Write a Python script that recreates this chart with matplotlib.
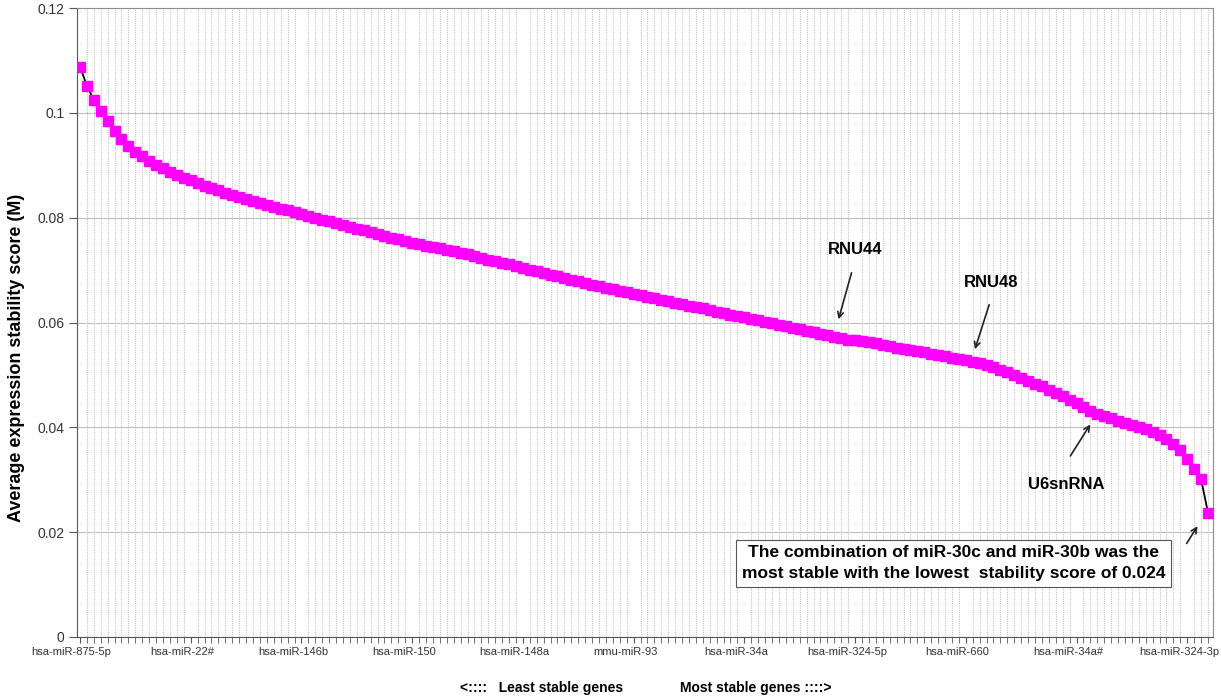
import numpy as np
import matplotlib.pyplot as plt
import matplotlib.transforms as mtransforms

plt.rcParams['font.family'] = ['Liberation Sans', 'DejaVu Sans']

# stability score M for the ranked genes (least stable -> most stable)
m_values = [
    0.1088, 0.1052, 0.1024, 0.1003, 0.0984, 0.0965, 0.0950, 0.0937, 0.0926, 0.0917,
    0.0909, 0.0901, 0.0894, 0.0888, 0.0882, 0.0876, 0.0871, 0.0866, 0.0861, 0.0857,
    0.0852, 0.0848, 0.0844, 0.0840, 0.0836, 0.0832, 0.0828, 0.0825, 0.0821, 0.0817,
    0.0814, 0.0810, 0.0807, 0.0803, 0.0800, 0.0796, 0.0793, 0.0789, 0.0786, 0.0782,
    0.0779, 0.0776, 0.0772, 0.0769, 0.0766, 0.0762, 0.0759, 0.0756, 0.0752, 0.0749,
    0.0746, 0.0744, 0.0742, 0.0739, 0.0736, 0.0733, 0.0730, 0.0727, 0.0723, 0.0720,
    0.0717, 0.0714, 0.0711, 0.0707, 0.0704, 0.0701, 0.0698, 0.0695, 0.0691, 0.0688,
    0.0685, 0.0682, 0.0679, 0.0675, 0.0672, 0.0669, 0.0666, 0.0663, 0.0660, 0.0658,
    0.0655, 0.0652, 0.0649, 0.0646, 0.0643, 0.0641, 0.0638, 0.0635, 0.0632, 0.0629,
    0.0627, 0.0624, 0.0621, 0.0618, 0.0615, 0.0613, 0.0610, 0.0607, 0.0604, 0.0601,
    0.0599, 0.0596, 0.0593, 0.0590, 0.0587, 0.0584, 0.0582, 0.0579, 0.0576, 0.0573,
    0.0570, 0.0567, 0.0566, 0.0564, 0.0562, 0.0560, 0.0557, 0.0555, 0.0552, 0.0550,
    0.0547, 0.0545, 0.0543, 0.0540, 0.0538, 0.0536, 0.0533, 0.0531, 0.0528, 0.0525,
    0.0522, 0.0519, 0.0515, 0.0510, 0.0505, 0.0500, 0.0494, 0.0489, 0.0483, 0.0478,
    0.0472, 0.0466, 0.0460, 0.0453, 0.0446, 0.0439, 0.0432, 0.0426, 0.0421, 0.0417,
    0.0413, 0.0409, 0.0405, 0.0401, 0.0397, 0.0392, 0.0386, 0.0378, 0.0368, 0.0356,
    0.0340, 0.0321, 0.0301, 0.0237,
]

# gene names shown on the axis (every 16th gene)
label_pos = [0, 16, 32, 48, 64, 80, 96, 112, 128, 144, 160]
label_names = ['hsa-miR-875-5p', 'hsa-miR-22#', 'hsa-miR-146b', 'hsa-miR-150',
               'hsa-miR-148a', 'mmu-miR-93', 'hsa-miR-34a', 'hsa-miR-324-5p',
               'hsa-miR-660', 'hsa-miR-34a#', 'hsa-miR-324-3p']

y_ticks = [0, 0.02, 0.04, 0.06, 0.08, 0.1, 0.12]
y_tick_labels = ['0', '0.02', '0.04', '0.06', '0.08', '0.1', '0.12']

n = len(m_values)
x = np.arange(n)

fig = plt.figure(figsize=(12.21, 6.98), dpi=100)
ax = fig.add_axes([0.06306, 0.0874, 0.93038, 0.9011])

# grid
ax.set_xticks(x, minor=True)
ax.grid(axis='x', which='minor', color='#c4c4c4', linestyle=(0, (1, 1)), linewidth=0.8)
ax.grid(axis='y', which='major', color='#c0c0c0', linestyle='-', linewidth=0.8)
ax.set_axisbelow(True)

ax.plot(x, m_values, color='black', linewidth=1.3, zorder=2)
ax.plot(x, m_values, linestyle='none', marker='s', markersize=7.2,
        markerfacecolor='#ff00ff', markeredgecolor='#ff00ff', zorder=3)

ax.set_xlim(-0.43, n - 0.28)
ax.set_ylim(0, 0.12)
ax.set_yticks(y_ticks)
ax.set_yticklabels(y_tick_labels, fontsize=10, color='#333333')
ax.set_xticks(label_pos)
ax.set_xticklabels([])
ax.tick_params(axis='x', which='both', length=4, color='#555555', direction='out')
ax.tick_params(axis='y', which='major', length=6, pad=3, color='#555555', direction='out')

# category names, set a little left of their ticks as in the original
trans = mtransforms.blended_transform_factory(ax.transData, ax.transAxes)
for pos, name in zip(label_pos, label_names):
    ax.text(pos - 1.2, -0.024, name, transform=trans, fontsize=8, color='#333333',
            ha='center', va='center', clip_on=False)

for s in ax.spines.values():
    s.set_color('#8c8c8c')
ax.spines['left'].set_color('#555555')
ax.spines['bottom'].set_color('#555555')

ax.set_ylabel('Average expression stability score (M)', fontsize=13, fontweight='bold')
ax.yaxis.set_label_coords(-0.046, 0.444)

# bottom direction captions
fig.text(0.3767, 0.0143, '<::::   Least stable genes', fontsize=10, fontweight='bold',
         ha='left', va='center')
fig.text(0.5569, 0.0143, 'Most stable genes ::::>', fontsize=10, fontweight='bold',
         ha='left', va='center')

arrow = dict(arrowstyle='->', color='#222222', lw=1.2)
ax.annotate('', xy=(109.5, 0.0601), xytext=(111.6, 0.0700), arrowprops=arrow)
ax.text(112.0, 0.0740, 'RNU44', fontsize=12, fontweight='bold', ha='center', va='center')
ax.annotate('', xy=(129.2, 0.0544), xytext=(131.5, 0.0639), arrowprops=arrow)
ax.text(131.6, 0.0677, 'RNU48', fontsize=12, fontweight='bold', ha='center', va='center')
ax.annotate('', xy=(146.2, 0.0410), xytext=(142.9, 0.0341), arrowprops=arrow)
ax.text(142.5, 0.0290, 'U6snRNA', fontsize=12, fontweight='bold', ha='center', va='center')
ax.annotate('', xy=(161.7, 0.0216), xytext=(159.7, 0.0174), arrowprops=arrow)
ax.text(126.2, 0.0141,
        'The combination of miR-30c and miR-30b was the\n'
        'most stable with the lowest  stability score of 0.024',
        fontsize=12.5, fontweight='bold', ha='center', va='center', linespacing=1.45,
        bbox=dict(boxstyle='square,pad=0.33', facecolor='white', edgecolor='#555555', lw=0.8))

fig.savefig('out.png', dpi=100)
